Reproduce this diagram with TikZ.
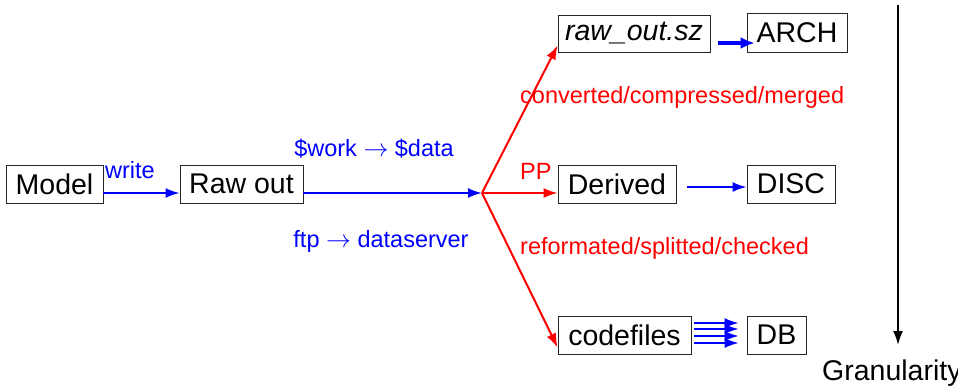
\documentclass[tikz,border=0pt]{standalone}
\usepackage{fontspec}
\setmainfont{Liberation Sans}
\usetikzlibrary{arrows.meta,calc}
\begin{document}
\begin{tikzpicture}[x=1pt,y=-1pt,
  box/.style={draw=black!85,line width=0.8pt,inner sep=0pt,minimum height=38pt,font=\fontsize{28.5}{33}\selectfont},
  lbl/.style={inner sep=0pt,font=\fontsize{23.5}{28}\selectfont},
  bl/.style={blue,line width=2pt,-{Latex[length=14pt,width=10pt]}},
  rd/.style={red,line width=2pt,-{Latex[length=14pt,width=10pt]}}]
\useasboundingbox (0,0) rectangle (958,389);
\node[box,minimum width=97pt] (model) at (54.5,184) {Model};
\node[box,minimum width=123pt] (raw) at (241.5,184) {Raw out};
\node[box,minimum width=152pt,minimum height=37pt] (sz) at (634,33.5) {\itshape raw\_out.sz};
\node[box,minimum width=100pt,minimum height=39pt] (arch) at (797,32.5) {ARCH};
\node[box,minimum width=118pt] (der) at (617,184) {Derived};
\node[box,minimum width=88pt] (disc) at (791,184) {DISC};
\node[box,minimum width=133pt] (code) at (624.5,335) {codefiles};
\node[box,minimum width=59pt] (db) at (776.5,335) {DB};
\coordinate (br) at (482,193);
\draw[bl] (model.east |- br) -- (raw.west |- br);
\draw[bl] (raw.east |- br) -- (br);
\draw[rd] (br) -- (der.west |- br);
\draw[rd] (br) -- ($(sz.south west)+(0,-7)$);
\draw[rd] (br) -- ($(code.south west)+(0,-7)$);
\draw[blue,line width=4pt,-{Latex[length=14pt,width=12pt]}] ($(sz.east)+(8,9.5)$) -- ($(arch.west)+(8,10.5)$);
\draw[bl] ($(der.east)+(11,3)$) -- ($(disc.west)+(0,3)$);
\foreach \d in {-12,-6,1,8}
  \draw[blue,line width=1.6pt,-{Latex[length=14pt,width=10pt]}] ($(code.east)+(3,\d)$) -- ($(db.west)+(-8,\d)$);
\node[lbl,blue,anchor=base west] (w) at (105,178) {write};
\node[lbl,blue,anchor=base] (wd) at (374,156) {\$work $\rightarrow$ \$data};
\node[lbl,blue,anchor=base] (ftp) at (381,247) {ftp $\rightarrow$ dataserver};
\node[lbl,red,anchor=base west] (pp) at (520,179) {PP};
\node[lbl,red,anchor=base west] (conv) at (520,103) {converted/compressed/merged};
\node[lbl,red,anchor=base west] (ref) at (520,254) {reformated/splitted/checked};
\coordinate (gtop) at (898,5);
\coordinate (gbot) at (898,345);
\draw[black,line width=1.8pt,-{Latex[length=14pt,width=10pt]}] (gtop) -- (gbot);
\node[inner sep=0pt,anchor=base west,font=\fontsize{28.5}{33}\selectfont] (gran) at (822,380) {Granularity};
\end{tikzpicture}
\end{document}
